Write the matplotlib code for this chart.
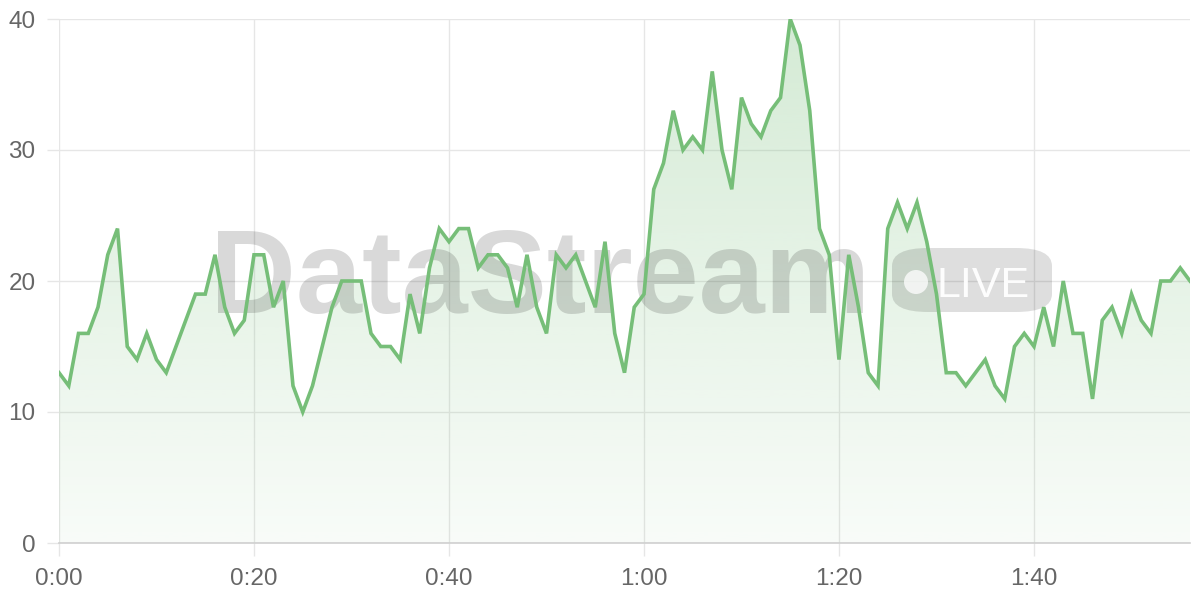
import numpy as np
import matplotlib
matplotlib.use('Agg')
import matplotlib.pyplot as plt
from matplotlib.patches import FancyBboxPatch, Circle
from matplotlib.colors import to_rgb

# Werte pro Sekunde
sekunden = list(range(117))
werte = [13, 12, 16, 16, 18, 22, 24, 15, 14, 16,
         14, 13, 15, 17, 19, 19, 22, 18, 16, 17,
         22, 22, 18, 20, 12, 10, 12, 15, 18, 20,
         20, 20, 16, 15, 15, 14, 19, 16, 21, 24,
         23, 24, 24, 21, 22, 22, 21, 18, 22, 18,
         16, 22, 21, 22, 20, 18, 23, 16, 13, 18,
         19, 27, 29, 33, 30, 31, 30, 36, 30, 27,
         34, 32, 31, 33, 34, 40, 38, 33, 24, 22,
         14, 22, 18, 13, 12, 24, 26, 24, 26, 23,
         19, 13, 13, 12, 13, 14, 12, 11, 15, 16,
         15, 18, 15, 20, 16, 16, 11, 17, 18, 16,
         19, 17, 16, 20, 20, 21, 20]

x_ticks = [0, 20, 40, 60, 80, 100]
x_labels = ['0:00', '0:20', '0:40', '1:00', '1:20', '1:40']
y_ticks = [0, 10, 20, 30, 40]

gruen = '#76be78'
gitter = '#e6e6e6'

plt.rcParams['font.family'] = ['Liberation Sans', 'DejaVu Sans']

fig = plt.figure(figsize=(12, 6), dpi=100)
ax = fig.add_axes([59 / 1200, 57 / 600, 1131 / 1200, 524 / 600])

# Verlauf unter der Linie
poly = ax.fill_between(sekunden, werte, 0, facecolor='none', edgecolor='none')
r, g, b = to_rgb(gruen)
alpha = np.linspace(0.05, 0.31, 256).reshape(-1, 1)
grad = np.zeros((256, 1, 4))
grad[..., 0] = r
grad[..., 1] = g
grad[..., 2] = b
grad[..., 3] = alpha
im = ax.imshow(grad, extent=[0, 116, 0, 40], origin='lower', aspect='auto',
               interpolation='bilinear', zorder=1)
im.set_clip_path(poly.get_paths()[0], transform=ax.transData)

ax.plot(sekunden, werte, color=gruen, lw=2.6, solid_joinstyle='miter', zorder=5)

ax.set_xlim(0, 116)
ax.set_ylim(0, 40)
ax.set_xticks(x_ticks)
ax.set_xticklabels(x_labels)
ax.set_yticks(y_ticks)
ax.grid(True, color=gitter, lw=1, zorder=0)
ax.set_axisbelow(True)
for s in ['top', 'right', 'left']:
    ax.spines[s].set_visible(False)
ax.spines['bottom'].set_color('#cfcfcf')
ax.spines['bottom'].set_linewidth(1.2)
ax.tick_params(axis='both', length=9, width=1, color=gitter, labelcolor='#666666',
               labelsize=17.5)
ax.tick_params(axis='x', pad=9)
ax.tick_params(axis='y', pad=8)

# Wasserzeichen, unter der Linie
ax.text(210 / 1200, (600 - 313) / 600, 'DataStream', transform=fig.transFigure,
        fontsize=85.5, fontweight='bold', color='black', alpha=0.15,
        ha='left', va='baseline', zorder=3, clip_on=False)
pill = FancyBboxPatch((892 / 1200, (600 - 312) / 600), 160 / 1200, 64 / 600,
                      boxstyle='round,pad=0,rounding_size=0.03', transform=fig.transFigure,
                      facecolor='black', alpha=0.13, edgecolor='none', zorder=3, clip_on=False)
ax.add_patch(pill)
ax.text(937 / 1200, (600 - 297) / 600, 'LIVE', transform=fig.transFigure, fontsize=31,
        color='white', alpha=0.95, ha='left', va='baseline', zorder=4, clip_on=False)
punkt = Circle((916, 600 - 282), 12, transform=None, facecolor='white', alpha=0.75,
               edgecolor='none', zorder=4, clip_on=False)
ax.add_patch(punkt)

fig.savefig('out.png', dpi=100)
